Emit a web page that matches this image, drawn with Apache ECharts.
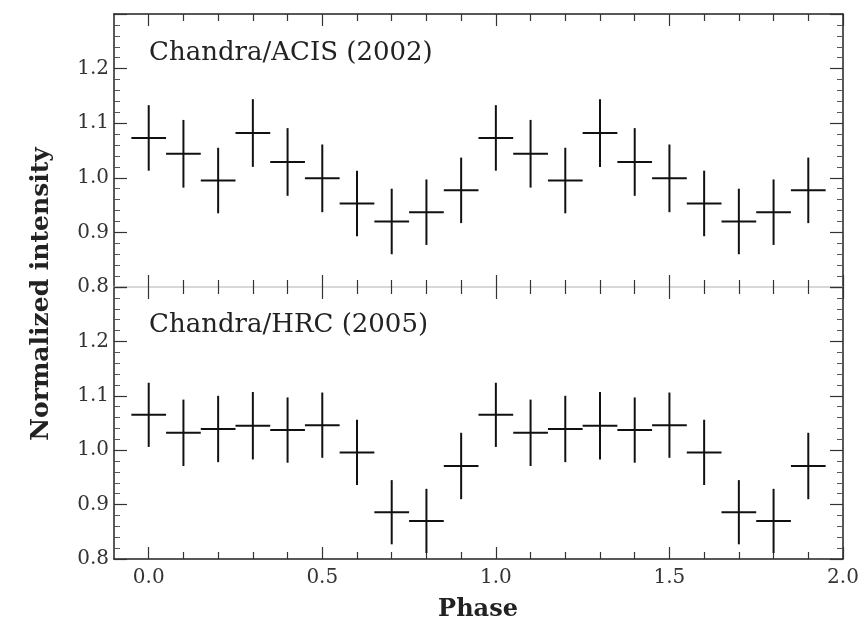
<!DOCTYPE html>
<html>
<head>
<meta charset="utf-8">
<script src="https://cdn.jsdelivr.net/npm/echarts@6/dist/echarts.min.js"></script>
<style>
  html, body { margin: 0; padding: 0; background: #fff; }
  #chart { width: 865px; height: 625px; }
</style>
</head>
<body>
<div id="chart"></div>
<script>
// folded light curve, two cycles
var phase = [0.0, 0.1, 0.2, 0.3, 0.4, 0.5, 0.6, 0.7, 0.8, 0.9,
             1.0, 1.1, 1.2, 1.3, 1.4, 1.5, 1.6, 1.7, 1.8, 1.9];
var acisValue = [1.073, 1.044, 0.995, 1.082, 1.029, 0.999, 0.953, 0.920, 0.937, 0.977,
                 1.073, 1.044, 0.995, 1.082, 1.029, 0.999, 0.953, 0.920, 0.937, 0.977];
var acisError = [0.060, 0.062, 0.060, 0.062, 0.062, 0.062, 0.060, 0.060, 0.060, 0.060,
                 0.060, 0.062, 0.060, 0.062, 0.062, 0.062, 0.060, 0.060, 0.060, 0.060];
var hrcValue = [1.065, 1.032, 1.039, 1.045, 1.037, 1.046, 0.996, 0.886, 0.870, 0.971,
                1.065, 1.032, 1.039, 1.045, 1.037, 1.046, 0.996, 0.886, 0.870, 0.971];
var hrcError = [0.059, 0.061, 0.061, 0.062, 0.060, 0.060, 0.060, 0.059, 0.059, 0.061,
                0.059, 0.061, 0.061, 0.062, 0.060, 0.060, 0.060, 0.059, 0.059, 0.061];
var binHalf = 0.05;

var xMajor = [0, 0.5, 1, 1.5, 2];
var xMinor = [0.1, 0.2, 0.3, 0.4, 0.6, 0.7, 0.8, 0.9, 1.1, 1.2, 1.3, 1.4, 1.6, 1.7, 1.8, 1.9];
var yLabels = [0.8, 0.9, 1.0, 1.1, 1.2];

var font = '"DejaVu Serif", "Liberation Serif", serif';
var dark = '#222';

function toRows(v, e) {
    return phase.map(function(p, i) { return [p, v[i], e[i]]; });
}

function renderCross(params, api) {
    var x = api.value(0), y = api.value(1), e = api.value(2);
    var l = api.coord([x - binHalf, y]);
    var r = api.coord([x + binHalf, y]);
    var t = api.coord([x, y + e]);
    var b = api.coord([x, y - e]);
    var style = { stroke: '#111', lineWidth: 2 };
    return {
        type: 'group',
        children: [
            { type: 'line', shape: { x1: l[0], y1: l[1], x2: r[0], y2: r[1] }, style: style },
            { type: 'line', shape: { x1: t[0], y1: t[1], x2: b[0], y2: b[1] }, style: style }
        ]
    };
}

function xAxis(grid, pos, minor, lineColor, labels) {
    return {
        type: 'value', gridIndex: grid, position: pos, min: -0.1, max: 2,
        axisLine: { show: !!lineColor, onZero: false, lineStyle: { color: lineColor || dark, width: 1.5 } },
        axisTick: { inside: true, customValues: minor ? xMinor : xMajor, length: minor ? 7 : 12,
                    lineStyle: { color: '#333', width: 1.2 } },
        axisLabel: { show: !!labels, customValues: xMajor, margin: 9,
                     formatter: function(v) { return v.toFixed(1); },
                     fontFamily: font, fontSize: 20, color: '#333' },
        splitLine: { show: false }
    };
}

function yAxis(grid, pos, labels) {
    return {
        type: 'value', gridIndex: grid, position: pos, min: 0.8, max: 1.3, interval: 0.1,
        axisLine: { show: true, onZero: false, lineStyle: { color: dark, width: 1.5 } },
        axisTick: { inside: true, length: 13, lineStyle: { color: '#333', width: 1.2 } },
        minorTick: { show: true, splitNumber: 5, length: 6, lineStyle: { color: '#555' } },
        axisLabel: { show: labels, customValues: yLabels, margin: 5,
                     formatter: function(v) { return v.toFixed(1); },
                     fontFamily: font, fontSize: 20, color: '#333' },
        splitLine: { show: false }
    };
}

var option = {
    animation: false,
    backgroundColor: '#fff',
    grid: [
        { left: 114, right: 22, top: 14, height: 273 },
        { left: 114, right: 22, top: 287, height: 272 }
    ],
    xAxis: [
        xAxis(0, 'bottom', false, '#ccc', false),
        xAxis(0, 'bottom', true, null, false),
        xAxis(0, 'top', false, dark, false),
        xAxis(0, 'top', true, null, false),
        xAxis(1, 'bottom', false, dark, true),
        xAxis(1, 'bottom', true, null, false),
        xAxis(1, 'top', false, null, false),
        xAxis(1, 'top', true, null, false)
    ],
    yAxis: [
        yAxis(0, 'left', true),
        yAxis(0, 'right', false),
        yAxis(1, 'left', true),
        yAxis(1, 'right', false)
    ],
    graphic: [
        { type: 'text', left: 149, top: 40,
          style: { text: 'Chandra/ACIS (2002)', font: '26px ' + font, fill: '#222' } },
        { type: 'text', left: 149, top: 312,
          style: { text: 'Chandra/HRC (2005)', font: '26px ' + font, fill: '#222' } },
        { type: 'text', x: 41, y: 294, rotation: Math.PI / 2,
          style: { text: 'Normalized intensity', font: 'bold 25px ' + font, fill: '#222',
                   align: 'center', verticalAlign: 'middle' } },
        { type: 'text', x: 478, y: 610,
          style: { text: 'Phase', font: 'bold 24px ' + font, fill: '#222',
                   align: 'center', verticalAlign: 'middle' } }
    ],
    series: [
        { type: 'custom', name: 'ACIS', xAxisIndex: 0, yAxisIndex: 0,
          renderItem: renderCross, data: toRows(acisValue, acisError) },
        { type: 'custom', name: 'HRC', xAxisIndex: 4, yAxisIndex: 2,
          renderItem: renderCross, data: toRows(hrcValue, hrcError) }
    ]
};

var myChart = echarts.init(document.getElementById('chart'));
myChart.setOption(option);
</script>
</body>
</html>
